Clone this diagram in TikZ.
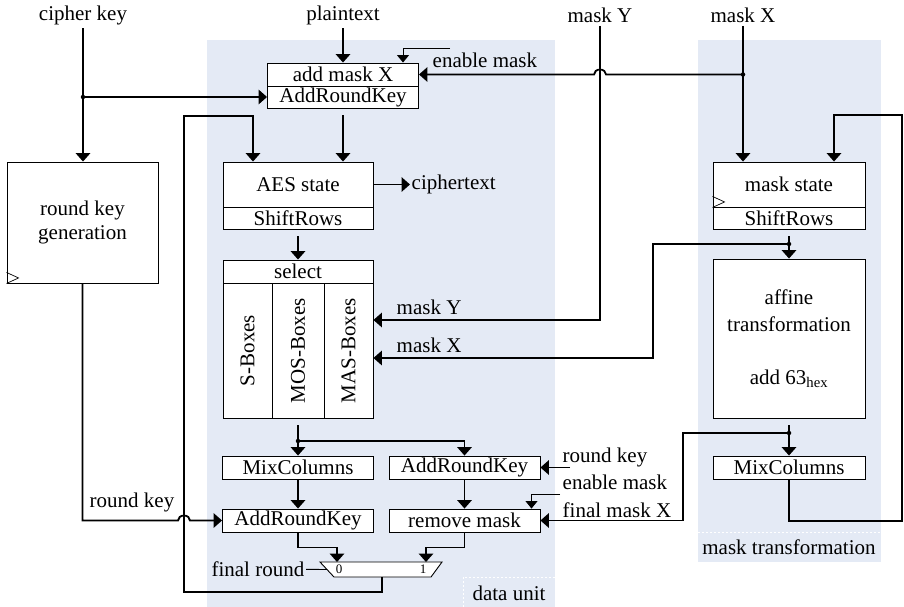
\documentclass[tikz,border=0pt]{standalone}
\usepackage{fontspec}
\setmainfont{Liberation Serif}
\usetikzlibrary{arrows.meta}
\definecolor{unitbg}{RGB}{228,234,245}

\begin{document}
\begin{tikzpicture}[x=1pt, y=-1pt, >={Triangle[width=14.5pt,length=8.5pt]},
        font=\fontsize{21}{24}\selectfont,
        blk/.style={draw, fill=white, line width=0.9pt, inner sep=0pt,
            minimum width=151pt, minimum height=#1},
        blk/.default=23pt,
        link/.style={line width=1.8pt, ->},
        ctrl/.style={line width=0.9pt, -{Triangle[width=12pt,length=7.5pt]}},
        lbl/.style={inner sep=1.5pt},
        dot/.style={circle, fill, inner sep=0pt, minimum size=4.5pt}]
        \useasboundingbox (0,0) rectangle (904,607);

        % Shaded units
        \fill[unitbg] (207,40) rectangle (555,607);
        \fill[unitbg] (698,40) rectangle (881,562);
        \draw[white, line width=1pt, dash pattern=on 2pt off 2pt] (463,607) |- (555,577);
        \draw[white, line width=1pt, dash pattern=on 2pt off 2pt] (698,532) -- (881,532);
        \node (du) at (509,593) {data unit};
        \node (mt) at (789,547) {mask transformation};

        % Inputs and labels
        \node (ckey) at (83,15) {cipher key};
        \node (ptxt) at (343,15) {plaintext};
        \node (mY) at (600,15) {mask Y};
        \node (mX) at (743,15) {mask X};
        \node[lbl, anchor=west] (enA) at (431,60) {enable mask};
        \node[lbl, anchor=west] (ctxt) at (410,184.5) {ciphertext};
        \node[lbl, anchor=west] (lmY) at (395,307) {mask Y};
        \node[lbl, anchor=west] (lmX) at (395,345) {mask X};
        \node (lrk) at (132,502) {round key};
        \node[lbl, anchor=east] (frnd) at (306,569) {final round};
        \node[lbl, anchor=west] (rrk) at (561,457) {round key};
        \node[lbl, anchor=west] (enB) at (561,482) {enable mask};
        \node[lbl, anchor=west] (fmX) at (561,510) {final mask X};

        % Key schedule
        \node[blk=121pt, align=center] (rkg) at (82.5,222.5) {round key\\generation};
        \draw[line width=0.7pt] ([yshift=11pt]rkg.south west) -- ++(12,5.5) -- (rkg.south west);

        % Data unit
        \node[blk] (amx) at (343,74.5) {add mask X};
        \node[blk=22pt] (ark0) at (343,97) {AddRoundKey};
        \node[blk=45pt, minimum width=150pt] (aes) at (298,184.5) {AES state};
        \node[blk=22pt, minimum width=150pt] (asr) at (298,218) {ShiftRows};
        \node[blk, minimum width=150pt] (sel) at (298,271.5) {select};
        % rotated: south is the right side, west the bottom
        \node[blk=49pt, minimum width=135pt, rotate=90] (sbx) at (247.5,350.5) {S-Boxes};
        \node[blk=52pt, minimum width=135pt, rotate=90] (mos) at (298,350.5) {MOS-Boxes};
        \node[blk=49pt, minimum width=135pt, rotate=90] (mas) at (348.5,350.5) {MAS-Boxes};
        \node[blk] (mcl) at (298,467.5) {MixColumns};
        \node[blk] (ark1) at (298,520.5) {AddRoundKey};
        \node[blk] (ark2) at (464.5,467.5) {AddRoundKey};
        \node[blk] (rmk) at (464.5,520.5) {remove mask};

        % Multiplexer
        \draw[fill=white, line width=0.9pt] (320,562) -- (442,562) -- (431,577) -- (334,577) -- cycle;
        \coordinate (muxA) at (337,562);
        \coordinate (muxB) at (426,562);
        \coordinate (muxS) at (327,569.5);
        \coordinate (muxO) at (382,577);
        \node[font=\fontsize{13}{14}\selectfont, inner sep=0pt] (mux0) at (339,569) {0};
        \node[font=\fontsize{13}{14}\selectfont, inner sep=0pt] (mux1) at (423,569) {1};

        % Mask transformation
        \node[blk=45pt, minimum width=152pt] (mst) at (789,184.5) {mask state};
        \draw[line width=0.7pt] ([yshift=11pt]mst.south west) -- ++(12,5.5) -- (mst.south west);
        \node[blk=22pt, minimum width=152pt] (msr) at (789,218) {ShiftRows};
        \node[blk=159pt, minimum width=152pt, align=center, font=\fontsize{21}{27}\selectfont]
            (aff) at (789,338.5) {affine\\transformation\\[26pt]add 63\textsubscript{hex}};
        \node[blk, minimum width=152pt] (mmc) at (789,467.5) {MixColumns};

        % Junctions and free ends
        \node[dot] (ckd) at (83,97) {};
        \node[dot] (mXd) at (743,74.5) {};
        \node[dot] (msd) at (789,244) {};
        \node[dot] (afd) at (789,433) {};
        \node[dot] (sbd) at (298,441) {};
        \coordinate (enAin) at (450,48);
        \coordinate (enBin) at (560,494);
        \coordinate (rkin) at (570,467.5);

        % Key paths
        \draw[link] (ckey) -- (ckey |- rkg.north);
        \draw[link] (ckd.center) -- (ark0.west);
        \draw[link] (rkg) |- (178,520.5) arc[start angle=180, end angle=0, x radius=6pt, y radius=5pt] -- (ark1.west);

        % Data path
        \draw[link] (ptxt) -- (amx);
        \draw[ctrl] (enAin) -| ([xshift=60pt]amx.north);
        \draw[link] (mX) -- (mX |- mst.north);
        \draw[link] (mXd.center) -- (606,74.5) arc[start angle=0, end angle=180, x radius=6pt, y radius=5pt] -- (amx.east);
        \draw[link] (mY) |- ([yshift=30.5pt]mas.south);
        \draw[link, shorten <=7pt] (ark0) -- (ark0.south |- aes.north);
        \draw[link] (muxO) -- ++(0,15) -| (184,116) -| ([xshift=-45pt]aes.north);
        \draw[link] (aes) -- (ctxt);
        \draw[link, shorten <=7pt] (asr) -- (sel);
        \draw[link, shorten <=7pt] (mos.west) -- (mcl);
        \draw[link] (sbd.center) -| (ark2);
        \draw[link] (mcl) -- (ark1);
        \draw[link] (ark2) -- (rmk);
        \draw[link] (rkin) -- (ark2.east);
        \draw[ctrl] (enBin) -| ([xshift=67pt]rmk.north);
        \draw[link] (ark1.south) -- ++(0,15) -| (muxA);
        \draw[link] (rmk.south) -- ++(0,15) -| (muxB);
        \draw[line width=0.9pt] (frnd) -- (muxS);

        % Mask path
        \draw[link, shorten <=7pt] (msr) -- (aff);
        \draw[link] (msd.center) -| (653,358) -- ([yshift=-7.5pt]mas.south);
        \draw[link, shorten <=7pt] (aff) -- (mmc);
        \draw[link] (afd.center) -| (683,520.5) -- (rmk.east);
        \draw[link] (mmc) |- (902,521) -- (902,115) -| ([xshift=45pt]mst.north);
    \end{tikzpicture}
\end{document}
